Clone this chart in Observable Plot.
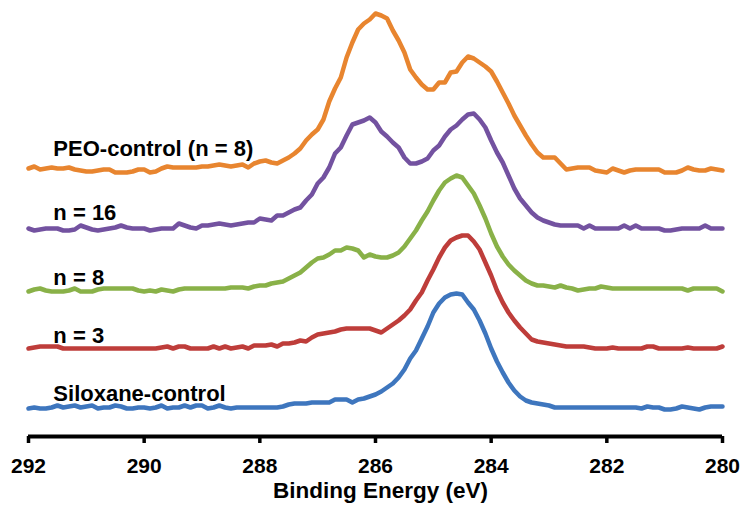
<!DOCTYPE html>
<html><head><meta charset="utf-8">
<script src="https://cdn.jsdelivr.net/npm/d3@7"></script>
<script src="https://cdn.jsdelivr.net/npm/@observablehq/plot@0.6"></script>
<style>body{margin:0;background:#fff;}</style>
</head><body><div id="chart"></div>
<script>
// Energy grid (eV), 0.1 eV steps from 292 down to 280
const energies = d3.range(121).map(i => +(292 - i * 0.1).toFixed(1));

// Offset intensities (arbitrary units)
const siloxane = [28,29,28,28,29,31,29,30,31,29, 30,31,28,29,29,31,30,28,28,29, 29,28,29,31,28,29,29,31,29,31,
  31,28,29,31,29,28,29,29,29,29, 29,29,29,29,30,32,33,33,33,34, 34,34,34,37,37,37,34,37,38,40,
  42,45,49,53,59,67,78,86,98,110, 124,133,139,142,143,142,134,127,116,103, 88,75,64,54,46,40,36,34,33,32,
  31,29,29,29,29,29,29,29,29,29, 29,29,29,29,29,29,28,30,29,29, 27,27,28,30,29,28,27,29,30,30, 30];
const n3 = [88,89,90,90,90,90,88,88,88,88, 88,88,88,88,88,88,88,88,88,88, 88,88,88,89,90,88,90,90,88,88,
  88,88,90,88,90,88,89,90,88,91, 91,91,92,90,93,93,94,96,95,99, 102,103,104,105,107,108,108,108,108,108,
  106,104,108,112,116,121,127,136,144,156, 167,179,189,196,199,201,201,195,187,174, 161,146,134,124,116,109,103,97,95,94,
  93,92,91,90,90,90,90,89,88,88, 88,89,88,88,88,88,88,90,90,88, 88,88,88,88,89,88,88,88,88,88, 90];
const n8 = [145,147,148,146,145,145,145,146,148,145, 145,145,147,148,148,148,148,148,148,146, 145,146,145,147,146,145,147,148,148,148,
  148,148,148,148,148,149,149,149,148,150, 151,151,153,154,155,158,161,164,169,174, 178,179,182,186,186,189,188,186,179,182,
  180,179,179,181,184,190,198,206,216,225, 236,246,254,258,261,259,251,243,231,218, 203,190,180,172,166,161,156,153,151,151,
  150,149,151,149,148,146,147,148,148,150, 149,148,148,148,148,148,148,148,148,148, 148,148,148,148,146,148,148,148,148,148, 145];
const n16 = [208,206,207,208,208,208,206,206,207,211, 209,207,206,207,208,209,211,209,208,208, 208,206,207,208,208,208,213,211,209,208,
  211,211,212,213,212,211,212,213,214,214, 218,217,216,221,221,224,227,229,236,242, 253,259,269,283,289,301,312,314,316,319,
  314,305,300,294,289,279,273,273,275,278, 286,291,300,307,311,317,322,323,317,309, 296,284,274,261,248,238,231,224,219,216,
  214,212,211,211,211,211,208,211,208,208, 208,208,208,211,208,211,208,208,208,208, 206,206,207,208,208,208,208,211,208,208, 208];
const peo = [268,270,267,268,269,268,268,269,267,266, 265,265,266,267,267,264,264,264,265,267, 267,264,265,268,270,269,269,269,269,269,
  270,270,271,272,271,270,271,272,269,273, 275,276,274,273,276,279,283,288,296,302, 307,317,335,348,359,379,394,407,413,417,
  423,421,418,406,396,384,367,359,352,347, 347,354,354,364,365,374,380,378,374,370, 365,355,344,333,321,311,301,292,284,279,
  279,279,273,267,268,269,269,269,266,265, 264,268,266,264,266,267,267,267,267,267, 264,264,264,266,269,267,266,266,268,267, 266];

const seriesNames = ["Siloxane-control", "n = 3", "n = 8", "n = 16", "PEO-control (n = 8)"];
const seriesValues = [siloxane, n3, n8, n16, peo];
const seriesColors = ["#3E76BE", "#BE3D3A", "#89B148", "#7352A0", "#E8852F"];

// Label anchors (energy, intensity)
const labelE = [291.57, 291.57, 291.57, 291.57, 291.57];
const labelI = [43, 100.5, 159, 224, 288];

const xTicks = [292, 290, 288, 286, 284, 282, 280];

const rows = [];
seriesValues.forEach((vals, s) => vals.forEach((v, i) => rows.push({name: seriesNames[s], E: energies[i], I: v})));
const labels = seriesNames.map((name, i) => ({name, E: labelE[i], I: labelI[i]}));

const chart = Plot.plot({
  width: 750, height: 519,
  marginLeft: 28, marginRight: 28, marginTop: 0, marginBottom: 83,
  style: {fontFamily: "'Liberation Sans', Arial, sans-serif", background: "white", color: "black"},
  x: {domain: [292, 280]},
  y: {domain: [0, 436], axis: null},
  color: {domain: seriesNames, range: seriesColors},
  marks: [
    Plot.line(rows, {x: "E", y: "I", z: "name", stroke: "name", strokeWidth: 4.5}),
    Plot.text(labels, {x: "E", y: "I", text: "name", textAnchor: "start", fontSize: 22, fontWeight: "bold", fill: "black"}),
    Plot.ruleY([0], {strokeWidth: 4, stroke: "black"}),
    Plot.axisX({ticks: xTicks, tickSize: 7, strokeWidth: 3.5, tickPadding: 15, fontSize: 21, fontWeight: "bold", label: null, tickFormat: d => String(d)}),
    Plot.text(["Binding Energy (eV)"], {frameAnchor: "bottom", dy: 61, dx: 5, fontSize: 22.5, fontWeight: "bold", fill: "black"})
  ]
});
document.getElementById("chart").append(chart);
</script>
</body></html>
